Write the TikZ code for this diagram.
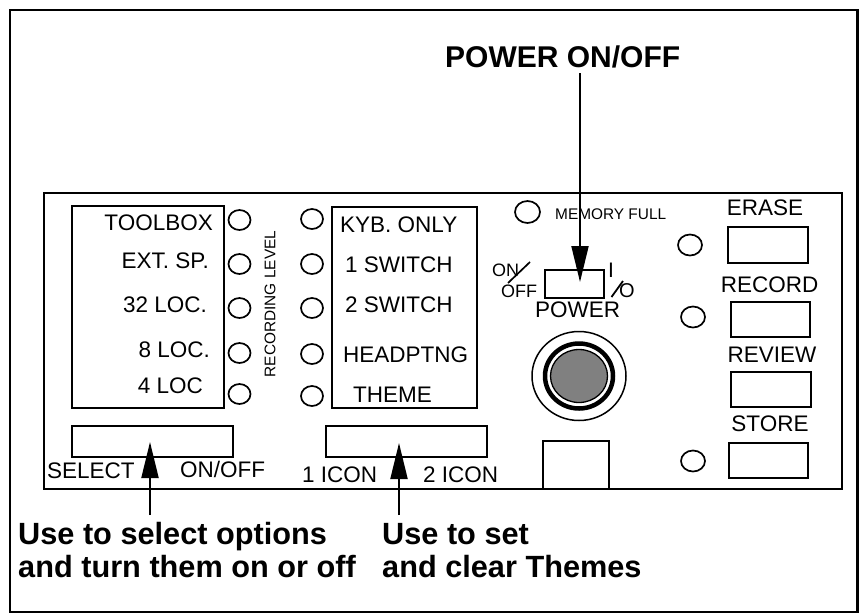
\documentclass[tikz,border=0pt]{standalone}
\usepackage{fontspec}
\setmainfont{Liberation Sans}
\usetikzlibrary{arrows.meta}
\begin{document}
\begin{tikzpicture}[x=1pt,y=-1pt,
  lbl/.style={inner sep=0pt, font=\fontsize{22.5}{22.5}\selectfont},
  sml/.style={inner sep=0pt, font=\fontsize{15.4}{15.4}\selectfont},
  tiny/.style={inner sep=0pt, font=\fontsize{18}{18}\selectfont},
  big/.style={inner sep=0pt, font=\fontsize{30.7}{30.7}\selectfont\bfseries},
  box/.style={draw, line width=1.8pt},
  led/.style={draw, line width=1.7pt},
  callout/.style={line width=2pt, -{Triangle[length=36pt,width=17pt]}}]
\useasboundingbox (0,0) rectangle (859,614);
% frames
\draw[line width=2.5pt] (10,10) rectangle (857.5,612);
\draw[box] (44,193) rectangle (842,489);
% left section
\draw[box] (72,206) rectangle (224,408);
\draw[box] (72,426) rectangle (233,457);
\node[lbl, anchor=base east] (t1) at (213,230) {TOOLBOX};
\node[lbl, anchor=base east] (t2) at (209,268) {EXT. SP.};
\node[lbl, anchor=base east] (t3) at (207,312) {32 LOC.};
\node[lbl, anchor=base east] (t4) at (210,357) {8 LOC.};
\node[lbl, anchor=base east] (t5) at (203,393) {4 LOC};
\foreach \y in {220,264,308,353,394}
  \draw[led] (239.5,\y) ellipse [x radius=11pt, y radius=10pt];
\node[sml, rotate=90] (rec) at (270,304) {RECORDING LEVEL};
\node[lbl, anchor=base west] (selt) at (47,478) {SELECT};
\node[lbl, anchor=base west] (onoff) at (180,477) {ON/OFF};
% middle section
\draw[box] (332,207) rectangle (477,408);
\draw[box] (326,426) rectangle (487,457);
\foreach \y in {219,264,308,354,396}
  \draw[led] (312,\y) ellipse [x radius=11pt, y radius=10pt];
\node[lbl, anchor=base west] (m1) at (340,232) {KYB. ONLY};
\node[lbl, anchor=base west] (m2) at (345,272) {1 SWITCH};
\node[lbl, anchor=base west] (m3) at (345,312) {2 SWITCH};
\node[lbl, anchor=base west] (m4) at (343,362) {HEADPTNG};
\node[lbl, anchor=base west] (m5) at (353,402) {THEME};
\node[lbl, anchor=base west] (i1) at (302,482) {1 ICON};
\node[lbl, anchor=base west] (i2) at (423,482) {2 ICON};
% power section
\draw[led] (527.5,212) ellipse [x radius=12.5pt, y radius=11pt];
\node[sml, anchor=base west] (mem) at (555,219) {MEMORY FULL};
\draw[box] (545,270) rectangle (604,298);
\node[tiny, anchor=base west] (on) at (492,276) {ON};
\node[tiny, anchor=base west] (off) at (501,297.5) {OFF};
\coordinate (sa) at (508,283);
\coordinate (sb) at (530,262);
\draw[line width=1.7pt] (sa) -- (sb);
\node[lbl, font=\fontsize{21}{21}\selectfont, anchor=base west] (ii) at (608,277) {I};
\coordinate (sc) at (611.5,297);
\coordinate (sd) at (623,281);
\draw[line width=1.8pt] (sc) -- (sd);
\node[lbl, font=\fontsize{20}{20}\selectfont, anchor=base west] (oo) at (619,297.5) {O};
\node[lbl, anchor=base west] (pw) at (535,317) {POWER};
% knob
\draw[line width=1.5pt] (579,376) ellipse [x radius=47pt, y radius=44.5pt];
\draw[line width=4.5pt] (579,376) ellipse [x radius=34pt, y radius=32.5pt];
\draw[line width=1.3pt, fill=black!50] (579,376) ellipse [x radius=28.5pt, y radius=26.5pt];
\draw[box] (543,441) rectangle (609,489);
% right section
\node[lbl, anchor=base] (er) at (765,215) {ERASE};
\node[lbl, anchor=base] (rc) at (769.5,292) {RECORD};
\node[lbl, anchor=base] (rv) at (772,362) {REVIEW};
\node[lbl, anchor=base] (st) at (770,431) {STORE};
\draw[box] (728,227) rectangle (808,263);
\draw[box] (731,302) rectangle (810,337);
\draw[box] (731,372) rectangle (811,407);
\draw[box] (729,443) rectangle (808,478);
\draw[led] (690,245) ellipse [x radius=12pt, y radius=10.5pt];
\draw[led] (693,317) ellipse [x radius=12pt, y radius=10.5pt];
\draw[led] (693,461) ellipse [x radius=12pt, y radius=10.5pt];
% callouts
\node[big, font=\fontsize{30}{30}\selectfont\bfseries, anchor=base west] (title) at (445,67) {POWER ON/OFF};
\node[big, anchor=base west] (u1) at (18,544) {Use to select options};
\node[big, anchor=base west] (u2) at (18,577) {and turn them on or off};
\node[big, anchor=base west] (v1) at (382,544) {Use to set};
\node[big, anchor=base west] (v2) at (382,577) {and clear Themes};
\coordinate (ptip) at (580,282);
\coordinate (pstart) at (580,73);
\coordinate (stip) at (150,442);
\coordinate (sstart) at (150,515);
\coordinate (ttip) at (399,443);
\coordinate (tstart) at (399,515);
\draw[callout] (pstart) -- (ptip);
\draw[callout] (sstart) -- (stip);
\draw[callout] (tstart) -- (ttip);
\end{tikzpicture}
\end{document}
